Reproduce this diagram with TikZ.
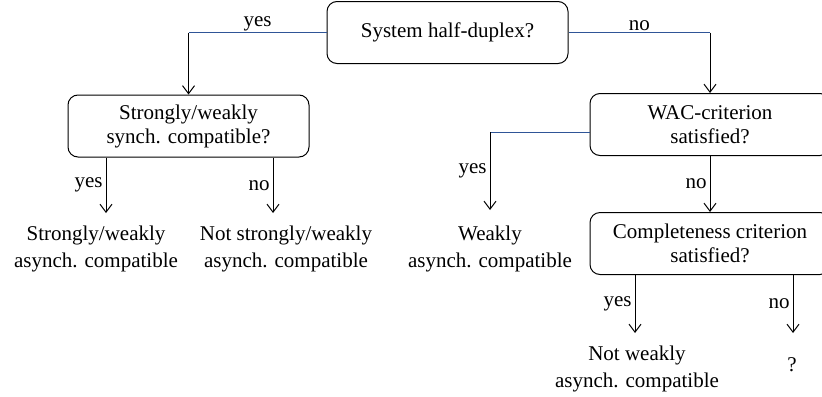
\documentclass[tikz,border=0pt]{standalone}
\usepackage{fontspec}
\setmainfont{Liberation Serif}
\usetikzlibrary{arrows.meta}
\definecolor{linkblue}{RGB}{47,85,151}

\begin{document}
\begin{tikzpicture}[
x=0.5pt, y=-0.5pt,
font=\fontsize{10.5}{12}\selectfont,
question/.style={draw, line width=0.5pt, rounded corners=5pt, align=center,
  minimum width=#1, minimum height=31pt, inner sep=0pt},
leaf/.style={align=center, inner sep=0pt, font=\fontsize{10.5}{13.5}\selectfont},
hline/.style={draw=linkblue, line width=0.5pt},
vline/.style={draw=black, line width=0.5pt, -{Straight Barb[length=4pt,width=6pt]}},
answer/.style={inner sep=1.5pt}
]
\useasboundingbox (0,0) rectangle (822,396);

\node[question=120.5pt] (q1) at (447.5,32.5) {System half-duplex?};
\node[question=120.5pt] (q2) at (188.5,126) {Strongly/weakly\\synch. compatible?};
\node[question=120pt] (q3) at (710,124.5) {WAC-criterion\\satisfied?};
\node[question=120pt] (q4) at (710,243.5) {Completeness criterion\\satisfied?};

\node[leaf] (l1) at (96,248.5) {Strongly/weakly\\asynch. compatible};
\node[leaf] (l2) at (286,248.5) {Not strongly/weakly\\asynch. compatible};
\node[leaf] (l3) at (490,248.5) {Weakly\\asynch. compatible};
\node[leaf] (l4) at (637,368.5) {Not weakly\\asynch. compatible};
\node[leaf] (l5) at (792,365) {?};

\coordinate (k1) at (q1.west -| q2.north);
\coordinate (k2) at (q1.east -| q3.north);
\coordinate (k3) at ([yshift=-3.75pt]q3.west -| l3.north);
\coordinate (e1) at (106,213);
\coordinate (e2) at (273,213);
\coordinate (e3) at (490,210);
\coordinate (e4) at (635,333);
\coordinate (e5) at (793,333);

\draw[hline] (q1.west) -- node[above, answer, inner sep=0.5pt] {yes} (k1);
\draw[vline] (k1) -- (q2.north);
\draw[hline] (q1.east) -- node[above, answer, inner sep=0.5pt] {no} (k2);
\draw[vline] (k2) -- (q3.north);

\draw[vline] (q2.south -| e1) -- node[left, answer] {yes} (e1);
\draw[vline] (q2.south -| e2) -- node[left, answer] {no} (e2);

\draw[hline] ([yshift=-3.75pt]q3.west) -- (k3);
\draw[vline] (k3) -- node[left, answer] {yes} (e3);
\draw[vline] (q3.south) -- node[left, answer] {no} (q4.north);

\draw[vline] (q4.south -| e4) -- node[left, answer] {yes} (e4);
\draw[vline] (q4.south -| e5) -- node[left, answer] {no} (e5);
\end{tikzpicture}
\end{document}
